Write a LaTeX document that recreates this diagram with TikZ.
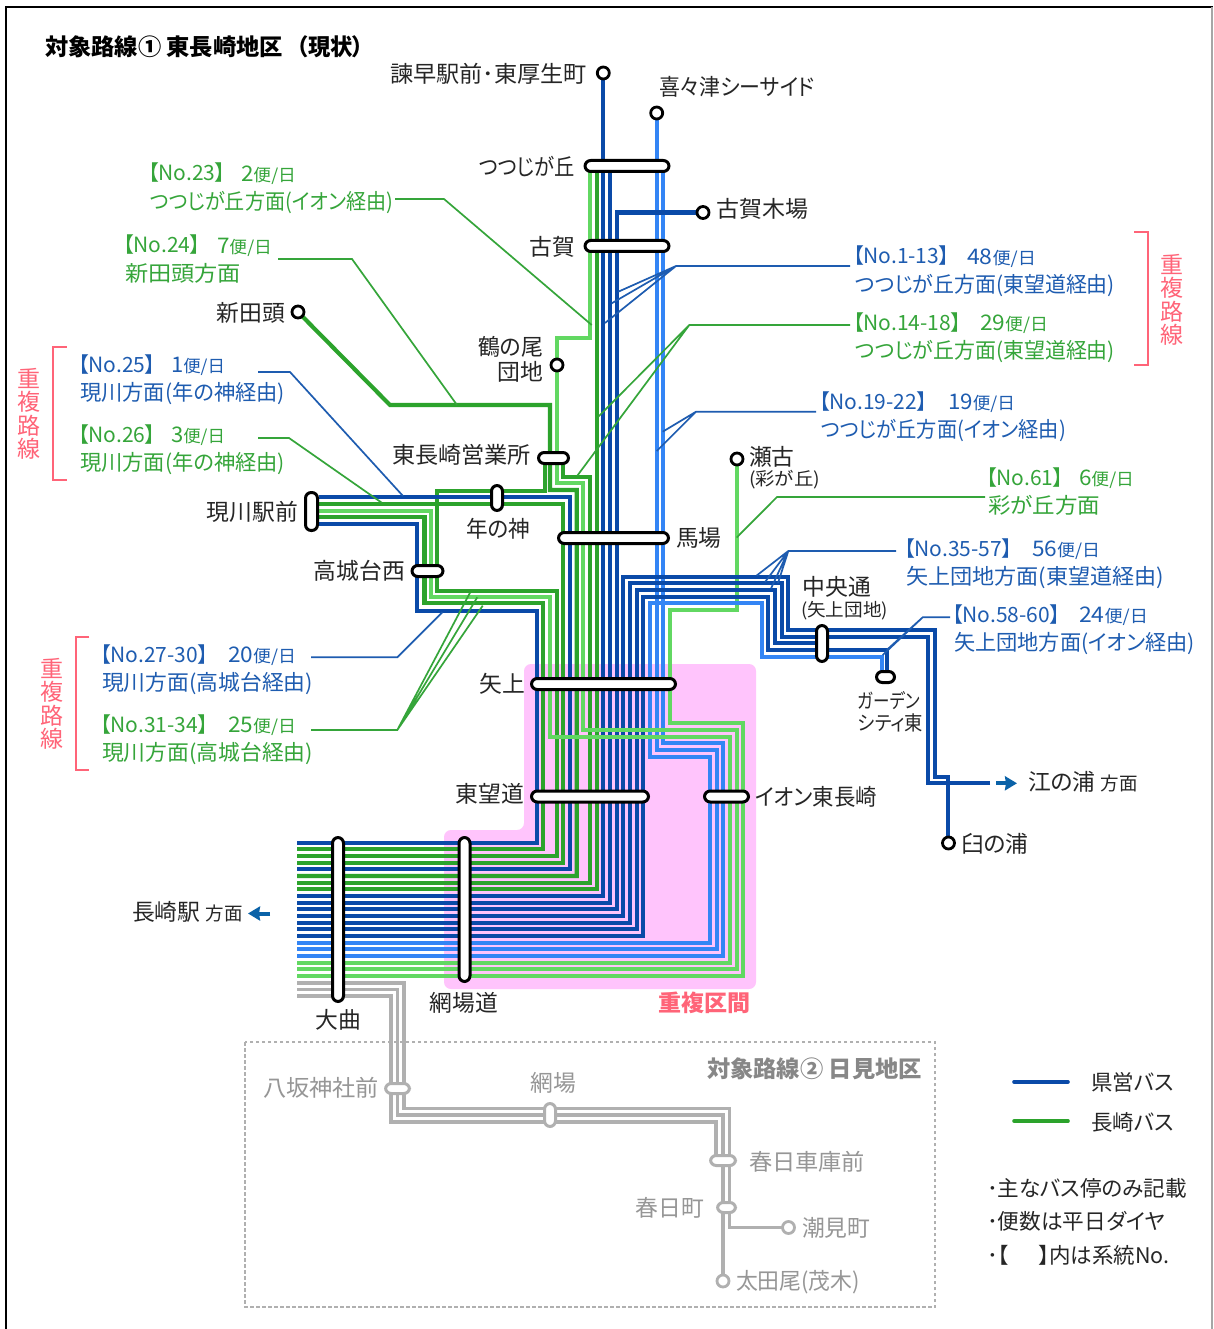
\documentclass[tikz,border=0pt]{standalone}
\usepackage{graphicx}
\usepackage{fontspec}
\setmainfont{Noto Sans CJK JP}[RawFeature={+palt}]
\usetikzlibrary{arrows.meta}
\definecolor{cblue}{HTML}{0A4AA8}
\definecolor{cgreen}{HTML}{2CA32C}
\definecolor{cltg}{HTML}{62D862}
\definecolor{cltb}{HTML}{3385F5}
\definecolor{cpink}{HTML}{FFC4FC}
\definecolor{cred}{HTML}{FF6478}
\definecolor{cgray}{HTML}{B0B0B0}
\definecolor{ctgray}{HTML}{969696}
\definecolor{ttblue}{HTML}{1E5CB0}
\definecolor{ttgreen}{HTML}{35A53A}
\definecolor{ctext}{HTML}{262626}
\definecolor{carrow}{HTML}{0A62A8}
\tikzset{
  rb/.style={draw=cblue,line width=4.1pt},
  rg/.style={draw=cgreen,line width=4.1pt},
  rlg/.style={draw=cltg,line width=4.1pt},
  rlb/.style={draw=cltb,line width=4.1pt},
  rgy/.style={draw=cgray,line width=3.6pt},
  leadb/.style={draw=ttblue,line width=1.7pt},
  leadg/.style={draw=ttgreen,line width=1.7pt},
  pill/.style={draw=black,fill=white,line width=3pt,inner sep=0pt,outer sep=0pt,rounded corners=5.7pt},
  gpill/.style={draw=cgray,fill=white,line width=3pt,inner sep=0pt,outer sep=0pt,rounded corners=5.7pt},
  endc/.style={circle,draw=black,fill=white,line width=2.8pt,inner sep=0pt,minimum size=12pt},
  gendc/.style={circle,draw=cgray,fill=white,line width=2.8pt,inner sep=0pt,minimum size=12pt},
  t/.style={inner sep=0pt,outer sep=0pt,text=ctext},
  s23/.style={font=\fontsize{22.8}{24}\selectfont,text height=20.1pt,text depth=2.7pt},
  s22/.style={font=\fontsize{21.5}{24}\selectfont,text height=18.9pt,text depth=2.6pt},
  s21/.style={font=\fontsize{21}{24}\selectfont,text height=18.5pt,text depth=2.5pt},
  s20/.style={font=\fontsize{20}{22}\selectfont,text height=17.6pt,text depth=2.4pt},
  s18/.style={font=\fontsize{18}{20}\selectfont,text height=15.8pt,text depth=2.2pt},
  tb/.style={text=ttblue},
  tg/.style={text=ttgreen},
  tgy/.style={text=ctgray},
  tr/.style={text=cred},
}
\newcommand{\smb}[1]{{\fontsize{17}{18}\selectfont #1}}
\newcommand{\smc}[1]{{\fontsize{18.5}{20}\selectfont #1}}
\newcommand{\fw}[2]{\resizebox{#1pt}{\height}{#2}}
% name, colour, x1, y, no-text, x2, count, width of the count text, second line
\newcommand{\rlab}[9]{%
  \node[t,s21,#2,anchor=west] (#1a) at (#3,#4) {#5};
  \node[t,s22,#2,anchor=west] (#1b) at (#6,#4) {\fw{#8}{#7\smb{便/日}}};
  \node[t,s22,#2,anchor=west] (#1c) at (#3+2,#4+28) {#9};
}
\begin{document}
\begin{tikzpicture}[x=1pt,y=-1pt]
\useasboundingbox (0,0) rectangle (1213,1329);
\fill[white] (0,0) rectangle (1213,1329);
% frame
\draw[black,line width=2.6pt] (6,1329) -- (6,7) -- (1213,7);
\draw[gray!70,line width=1.5pt] (1212,7) -- (1212,1329);
% duplicate section
\fill[cpink,rounded corners=7pt] (524,664) -- (756,664) -- (756,989) -- (444,989) -- (444,830) -- (524,830) -- cycle;
% dashed box
\draw[cgray,line width=1.6pt,dash pattern=on 3.5pt off 2.5pt] (245,1042) rectangle (935,1307);
% gray routes
\draw[rgy] (297,982.7) -- (404,982.7) -- (404,1108.3) -- (729.3,1108.3) -- (729.3,1227.3) -- (788,1227.3);
\draw[rgy] (297,989.4) -- (397.3,989.4) -- (397.3,1115) -- (722.7,1115) -- (722.7,1281);
\draw[rgy] (297,996) -- (390.7,996) -- (390.7,1121.7) -- (716,1121.7) -- (716,1160);
% under-layer routes
\draw[rlg] (736.7,459) -- (736.7,610) -- (670,610) -- (670,723.3) -- (743.3,723.3) -- (743.3,976) -- (297,976);
\draw[rlb] (656.7,113) -- (656.7,750) -- (716.7,750) -- (716.7,949.4) -- (297,949.4);
\draw[rlb] (663.3,166) -- (663.3,743.3) -- (723.3,743.3) -- (723.3,956) -- (297,956);
\draw[rlb] (881.7,677) -- (881.7,656.7) -- (762,656.7) -- (762,603.3) -- (650,603.3) -- (650,756.7) -- (710,756.7) -- (710,942.7) -- (297,942.7);
\draw[rg] (545,458) -- (545,490.7) -- (437.3,490.7) -- (437.3,590.7) -- (556.7,590.7) -- (556.7,856) -- (297,856);
% blue routes
\draw[rb] (319,524) -- (417.3,524) -- (417.3,610.7) -- (536.7,610.7) -- (536.7,842.7) -- (297,842.7);
\draw[rb] (319,497.3) -- (570,497.3) -- (570,869.4) -- (297,869.4);
\draw[rb] (603.3,73) -- (603.3,896) -- (297,896);
\draw[rb] (610,166) -- (610,902.7) -- (297,902.7);
\draw[rb] (703,212.5) -- (616.7,212.5) -- (616.7,909.4) -- (297,909.4);
\draw[rb] (948.3,843) -- (948.3,776.7) -- (935,776.7) -- (935,630) -- (788.3,630) -- (788.3,576.7) -- (623.3,576.7) -- (623.3,916) -- (297,916);
\draw[rb] (990,783.3) -- (928.3,783.3) -- (928.3,636.7) -- (781.7,636.7) -- (781.7,583.3) -- (630,583.3) -- (630,922.7) -- (297,922.7);
\draw[rb] (822,643.3) -- (775,643.3) -- (775,590) -- (636.7,590) -- (636.7,929.4) -- (297,929.4);
\draw[rb] (886.7,677) -- (886.7,650) -- (768.3,650) -- (768.3,596.7) -- (643.3,596.7) -- (643.3,936) -- (297,936);
% green routes
\draw[rg] (319,504) -- (563.3,504) -- (563.3,862.7) -- (297,862.7);
\draw[rg] (319,517.3) -- (424.5,517.3) -- (424.5,603.3) -- (543.3,603.3) -- (543.3,849.4) -- (297,849.4);
\draw[rg] (298,312) -- (390,405) -- (550,405) -- (550,490) -- (576.7,490) -- (576.7,876) -- (297,876);
\draw[rg] (563.3,458) -- (563.3,476.7) -- (590,476.7) -- (590,882.7) -- (297,882.7);
\draw[rg] (596.7,166) -- (596.7,889.4) -- (297,889.4);
% light green routes
\draw[rlg] (319,510.7) -- (431.3,510.7) -- (431.3,596.7) -- (550,596.7) -- (550,736.7) -- (730,736.7) -- (730,962.7) -- (297,962.7);
\draw[rlg] (590,166) -- (590,338) -- (556.7,338) -- (556.7,483.3) -- (583.3,483.3) -- (583.3,730) -- (736.7,730) -- (736.7,969.4) -- (297,969.4);
% leaders
\coordinate (a1) at (676,266);
\draw[leadb] (850,266) -- (a1) -- (618.3,291.7) (a1) -- (611.7,303.3) (a1) -- (605,323);
\coordinate (a14) at (689.3,325);
\draw[leadg] (850,325) -- (a14) -- (598.3,416.7) (a14) -- (577.3,475.7);
\coordinate (a19) at (696,411.7);
\draw[leadb] (816,411.7) -- (a19) -- (662.7,431.7) (a19) -- (656.7,451);
\draw[leadg] (985,497) -- (777,497) -- (736.7,537.5);
\coordinate (a35) at (788.3,551);
\draw[leadb] (896,551) -- (a35) -- (756.7,575.5) (a35) -- (765,582) (a35) -- (771,588.5) (a35) -- (778,583);
\coordinate (a58) at (922.7,617.3);
\draw[leadb] (950,617.3) -- (a58) -- (886.7,650) (a58) -- (882.7,655);
\draw[leadg] (395,199) -- (444,199) -- (591.7,325);
\draw[leadg] (278,259) -- (352,259) -- (457,405);
\draw[leadb] (258,372) -- (290,372) -- (403,496);
\draw[leadg] (258,438) -- (289,438) -- (381.7,502.7);
\draw[leadb] (311,657.3) -- (397.3,657.3) -- (442.3,612.3);
\coordinate (a31) at (397.3,730);
\draw[leadg] (311,730) -- (a31) -- (470,592.7) (a31) -- (477.3,597.3) (a31) -- (482.7,605.7);
% brackets
\draw[cred,line width=1.7pt] (66.7,347) -- (53.3,347) -- (53.3,480) -- (66.7,480);
\draw[cred,line width=1.7pt] (89.3,637) -- (76,637) -- (76,770) -- (89.3,770);
\draw[cred,line width=1.7pt] (1134,232) -- (1148,232) -- (1148,365) -- (1134,365);
% stops
\node[pill,minimum width=84,minimum height=11] (sTsutsuji) at (627,166) {};
\node[pill,minimum width=84,minimum height=11] (sKoga) at (627,246) {};
\node[pill,minimum width=30,minimum height=11] (sEigyo) at (553.5,458) {};
\node[pill,minimum width=11,minimum height=25] (sToshi) at (497,498) {};
\node[pill,minimum width=12,minimum height=38] (sGenkawa) at (311.5,511.5) {};
\node[pill,minimum width=31,minimum height=11] (sTakajo) at (427.5,571) {};
\node[pill,minimum width=110,minimum height=11] (sBaba) at (613.5,538) {};
\node[pill,minimum width=144,minimum height=11] (sYagami) at (603.5,684) {};
\node[pill,minimum width=117,minimum height=11] (sTobo) at (590,796.5) {};
\node[pill,minimum width=44,minimum height=11] (sAeon) at (726.5,796.5) {};
\node[pill,minimum width=11,minimum height=164] (sOmagari) at (338,919.5) {};
\node[pill,minimum width=11,minimum height=144] (sAmibado) at (464.5,909.5) {};
\node[pill,minimum width=11,minimum height=36] (sChuo) at (822,643.5) {};
\node[pill,minimum width=18,minimum height=11] (sGarden) at (885.5,677) {};
\node[gpill,minimum width=24,minimum height=10] (sYasaka) at (397.5,1088.5) {};
\node[gpill,minimum width=11,minimum height=23] (sAmiba) at (550,1115) {};
\node[gpill,minimum width=25,minimum height=10] (sKasugaS) at (723,1160.5) {};
\node[gpill,minimum width=18,minimum height=10] (sKasugaM) at (726.5,1207.5) {};
\node[endc] (cIsa) at (603.3,73) {};
\node[endc] (cKiki) at (656.7,113) {};
\node[endc] (cKogak) at (703,212.5) {};
\node[endc] (cNitta) at (298,312) {};
\node[endc] (cTsuru) at (557,365) {};
\node[endc] (cSeko) at (737,459) {};
\node[endc] (cUsu) at (948.5,843) {};
\node[gendc] (cShio) at (788.5,1227.5) {};
\node[gendc] (cOta) at (723,1281) {};
% arrows
\draw[carrow,line width=4pt,-{Stealth[length=12pt,width=14pt,inset=1pt]}] (996,783.3) -- (1017,783.3);
\draw[carrow,line width=4pt,-{Stealth[length=12pt,width=14pt,inset=1pt]}] (270,913.5) -- (248,913.5);
% legend
\draw[cblue,line width=3.6pt,line cap=round] (1014,1081.7) -- (1068,1081.7);
\draw[cgreen,line width=3.6pt,line cap=round] (1014,1121) -- (1068,1121);
% titles
\node[t,s23,anchor=west,font=\fontsize{23}{24}\bfseries\selectfont,text=black] (title) at (45,47) {\fw{238}{対象路線① 東長崎地区}};
\node[t,s23,anchor=west,font=\fontsize{23}{24}\bfseries\selectfont,text=black] (titleb) at (297,47) {\fw{67}{（現状）}};
\node[t,s23,anchor=east,font=\fontsize{23}{24}\bfseries\selectfont,text=ctgray!90!black] (title2) at (922,1069) {\fw{215}{対象路線② 日見地区}};
% stop labels
\node[t,s23,anchor=west] (lIsa) at (390,74) {\fw{197}{諫早駅前･東厚生町}};
\node[t,s23,anchor=west] (lKiki) at (659,87) {\fw{156}{喜々津シーサイド}};
\node[t,s23,anchor=east] (lTsu) at (575,167) {\fw{96}{つつじが丘}};
\node[t,s23,anchor=east] (lKoga) at (575,247) {古賀};
\node[t,s23,anchor=west] (lKogak) at (716,209) {\fw{92}{古賀木場}};
\node[t,s23,anchor=east] (lNitta) at (285,313) {新田頭};
\node[t,s23,anchor=east] (lTsuru) at (543,347) {\fw{65}{鶴の尾}};
\node[t,s23,anchor=east] (lTsuru2) at (543,372) {団地};
\node[t,s23,anchor=east] (lEigyo) at (531,455) {\fw{139}{東長崎営業所}};
\node[t,s23,anchor=center] (lToshi) at (498,529) {\fw{64}{年の神}};
\node[t,s23,anchor=east] (lGen) at (298,512) {現川駅前};
\node[t,s23,anchor=east] (lTaka) at (405,571) {高城台西};
\node[t,s23,anchor=east] (lYag) at (525,684) {矢上};
\node[t,s23,anchor=west] (lBaba) at (676,538) {馬場};
\node[t,s23,anchor=west] (lSeko) at (749,457) {瀬古};
\node[t,s18,anchor=west] (lSeko2) at (749,479) {\fw{71}{(彩が丘)}};
\node[t,s23,anchor=center] (lChuo) at (837,587) {中央通};
\node[t,s18,anchor=center] (lChuo2) at (844.5,610) {\fw{87}{(矢上団地)}};
\node[t,s20,anchor=west] (lGar) at (858,701) {\fw{62}{ガーデン}};
\node[t,s20,anchor=west] (lGar2) at (858,723) {\fw{65}{シティ東}};
\node[t,s23,anchor=east] (lTobo) at (524,794) {東望道};
\node[t,s23,anchor=west] (lAeon) at (755,797) {\fw{122}{イオン東長崎}};
\node[t,s23,anchor=west] (lEno) at (1028,782) {江の浦 \smc{方面}};
\node[t,s23,anchor=west] (lUsu) at (961,844) {臼の浦};
\node[t,s23,anchor=center] (lOma) at (338,1020) {大曲};
\node[t,s23,anchor=center] (lAmi) at (464,1003) {網場道};
\node[t,s23,anchor=west] (lNaga) at (132,912) {長崎駅 \smc{方面}};
\node[t,s23,anchor=west,font=\fontsize{22.8}{24}\bfseries\selectfont,tr] (lChofuku) at (658,1003) {\fw{92}{重複区間}};
% gray labels
\node[t,s23,tgy,anchor=east] (gYas) at (379,1088) {\fw{116}{八坂神社前}};
\node[t,s23,tgy,anchor=center] (gAmi) at (553,1083) {網場};
\node[t,s23,tgy,anchor=west] (gKas) at (749,1162) {\fw{116}{春日車庫前}};
\node[t,s23,tgy,anchor=east] (gKam) at (704,1208) {春日町};
\node[t,s23,tgy,anchor=west] (gShi) at (802,1228) {潮見町};
\node[t,s23,tgy,anchor=west] (gOta) at (736,1281) {\fw{124}{太田尾(茂木)}};
% route labels
\rlab{r23}{tg}{148}{173}{【No.23】}{241}{2}{55}{\fw{243}{つつじが丘方面(イオン経由)}}
\rlab{r24}{tg}{123}{245}{【No.24】}{217}{7}{55}{\fw{116}{新田頭方面}}
\rlab{r25}{tb}{78}{364}{【No.25】}{171}{1}{54}{\fw{205}{現川方面(年の神経由)}}
\rlab{r26}{tg}{78}{434}{【No.26】}{171}{3}{54}{\fw{205}{現川方面(年の神経由)}}
\rlab{r27}{tb}{100}{654}{【No.27-30】}{228}{20}{68}{\fw{211}{現川方面(高城台経由)}}
\rlab{r31}{tg}{100}{724}{【No.31-34】}{228}{25}{68}{\fw{211}{現川方面(高城台経由)}}
\rlab{r1}{tb}{853}{256}{【No.1-13】}{967}{48}{69}{\fw{260}{つつじが丘方面(東望道経由)}}
\rlab{r14}{tg}{853}{322}{【No.14-18】}{980}{29}{68}{\fw{260}{つつじが丘方面(東望道経由)}}
\rlab{r19}{tb}{819}{401}{【No.19-22】}{948}{19}{67}{\fw{245}{つつじが丘方面(イオン経由)}}
\rlab{r61}{tg}{986}{477}{【No.61】}{1079}{6}{55}{\fw{112}{彩が丘方面}}
\rlab{r35}{tb}{904}{548}{【No.35-57】}{1032}{56}{68}{\fw{258}{矢上団地方面(東望道経由)}}
\rlab{r58}{tb}{952}{614}{【No.58-60】}{1079}{24}{69}{\fw{241}{矢上団地方面(イオン経由)}}
% duplicate labels
\node[t,tr,align=center,font=\fontsize{23}{23.4}\selectfont] (d1) at (28.5,414) {重\\複\\路\\線};
\node[t,tr,align=center,font=\fontsize{23}{23.4}\selectfont] (d2) at (52,704) {重\\複\\路\\線};
\node[t,tr,align=center,font=\fontsize{23}{23.4}\selectfont] (d3) at (1172,300) {重\\複\\路\\線};
% legend text
\node[t,s22,anchor=west] (k1) at (1091,1082) {県営バス};
\node[t,s22,anchor=west] (k2) at (1091,1122) {長崎バス};
\node[t,s22,anchor=west] (n1) at (987,1188) {\fw{200}{･主なバス停のみ記載}};
\node[t,s22,anchor=west] (n2) at (987,1221) {\fw{178}{･便数は平日ダイヤ}};
\node[t,s22,anchor=west] (n3) at (987,1255) {･【\hspace{1.4em}】内は系統No.};
\end{tikzpicture}
\end{document}
